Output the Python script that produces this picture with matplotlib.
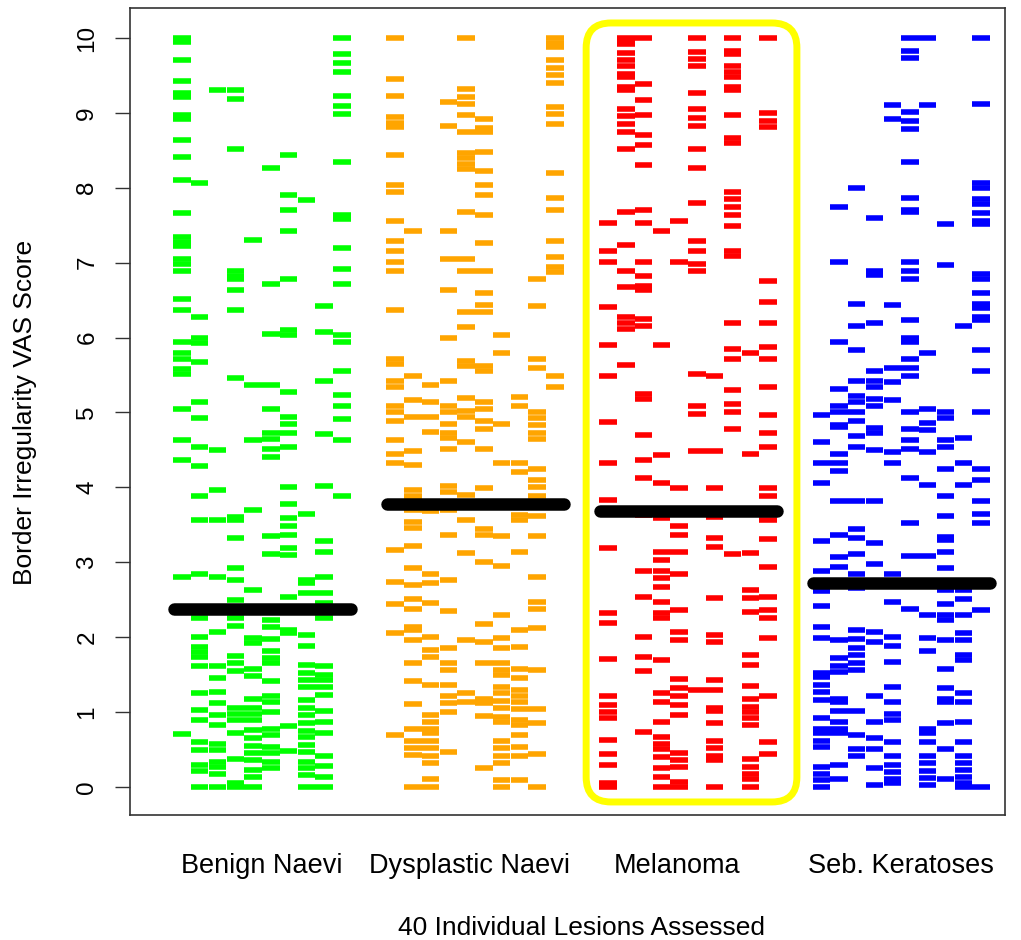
import matplotlib
matplotlib.use("Agg")
import matplotlib.pyplot as plt
from matplotlib.patches import FancyBboxPatch

plt.rcParams["font.family"] = ["Liberation Sans", "DejaVu Sans"]

GROUP_NAMES = ["Benign Naevi", "Dysplastic Naevi", "Melanoma", "Seb. Keratoses"]
GROUP_COLORS = ["#00FF00", "#FFA500", "#FF0000", "#0000FF"]
GROUP_MEDIANS = [2.38, 3.78, 3.68, 2.72]
LABEL_POS = [5.5, 17.2, 28.9, 41.5]

# VAS scores per lesion (one list per lesion, 10 lesions per group)
benign = [
    [10.0, 9.95, 9.70, 9.42, 9.27, 9.21, 8.97, 8.92, 8.64, 8.41, 8.10, 7.66, 7.34, 7.28, 7.22, 7.05, 6.98, 6.89,
     6.52, 6.37, 5.94, 5.79, 5.71, 5.58, 5.51, 5.05, 4.63, 4.37, 2.81, 0.71],
    [8.07, 6.27, 6.00, 5.93, 5.67, 5.14, 4.92, 4.54, 4.29, 3.89, 3.56, 2.85, 2.25, 2.00, 1.87, 1.80, 1.74, 1.62,
     1.25, 1.03, 0.89, 0.60, 0.50, 0.30, 0.22, 0.00],
    [9.30, 4.50, 3.96, 3.56, 2.81, 2.07, 1.62, 1.45, 1.27, 1.12, 0.96, 0.83, 0.58, 0.50, 0.34, 0.27, 0.18, 0.00],
    [9.30, 9.19, 8.52, 6.89, 6.82, 6.78, 6.64, 6.37, 5.46, 3.60, 3.56, 3.32, 2.92, 2.77, 2.50, 2.25, 2.15, 1.75,
     1.65, 1.55, 1.05, 0.98, 0.89, 0.72, 0.38, 0.05, 0.00],
    [7.30, 5.37, 4.63, 3.70, 2.63, 1.99, 1.92, 1.58, 1.48, 1.18, 1.06, 0.98, 0.90, 0.76, 0.66, 0.55, 0.45, 0.36,
     0.23, 0.14, 0.00],
    [8.26, 6.71, 6.05, 5.37, 5.05, 4.72, 4.65, 4.51, 4.40, 3.35, 3.11, 2.23, 2.14, 1.98, 1.82, 1.72, 1.65, 1.41,
     1.21, 1.14, 1.00, 0.78, 0.69, 0.54, 0.45, 0.34, 0.25],
    [8.44, 7.90, 7.70, 7.42, 6.78, 6.10, 6.03, 5.27, 4.94, 4.85, 4.73, 4.54, 4.00, 3.78, 3.59, 3.48, 3.36, 3.19,
     3.10, 2.54, 2.09, 2.05, 0.81, 0.48],
    [7.83, 3.65, 2.76, 2.72, 2.59, 2.03, 1.88, 1.63, 1.52, 1.43, 1.34, 1.16, 1.05, 0.96, 0.85, 0.75, 0.67, 0.56,
     0.47, 0.34, 0.25, 0.16, 0.00],
    [6.42, 6.08, 5.42, 4.71, 4.02, 3.28, 3.14, 2.81, 2.59, 2.45, 2.25, 1.61, 1.50, 1.43, 1.34, 1.23, 1.01, 0.87,
     0.72, 0.41, 0.28, 0.14, 0.00],
    [10.0, 9.79, 9.67, 9.55, 9.22, 9.09, 8.99, 8.34, 7.63, 7.58, 7.19, 6.92, 6.71, 6.04, 5.94, 5.56, 5.23, 5.08,
     4.91, 4.63, 3.89],
]

dysplastic = [
    [10.0, 9.45, 9.22, 8.94, 8.86, 8.81, 8.44, 8.04, 7.94, 7.56, 7.29, 7.15, 7.01, 6.89, 6.37, 5.71, 5.65, 5.42,
     5.34, 5.08, 5.01, 4.88, 4.63, 4.44, 4.33, 3.16, 2.74, 2.44, 2.06, 0.70],
    [7.42, 5.49, 5.16, 4.94, 4.48, 4.30, 3.96, 3.88, 3.83, 3.70, 3.54, 3.46, 3.22, 2.92, 2.69, 2.51, 2.38, 2.14,
     2.10, 1.96, 1.65, 1.42, 1.11, 0.78, 0.61, 0.52, 0.43, 0.00],
    [5.37, 5.14, 4.94, 4.74, 3.68, 2.85, 2.72, 2.45, 2.00, 1.83, 1.74, 1.36, 0.96, 0.87, 0.78, 0.72, 0.62, 0.52,
     0.42, 0.32, 0.10, 0.00],
    [9.15, 8.82, 7.42, 7.05, 6.64, 6.00, 5.42, 5.09, 5.00, 4.85, 4.72, 4.66, 4.51, 4.02, 3.94, 3.70, 3.36, 2.76,
     2.35, 1.85, 1.65, 1.56, 1.36, 1.22, 1.12, 1.00, 0.47],
    [10.0, 9.32, 9.21, 9.12, 8.97, 8.74, 8.47, 8.40, 8.32, 8.25, 7.67, 7.05, 6.89, 6.34, 6.14, 5.69, 5.62, 5.19,
     5.02, 4.94, 4.60, 3.90, 3.56, 3.12, 1.96, 1.25, 1.14],
    [8.92, 8.80, 8.74, 8.48, 8.23, 8.04, 7.90, 7.64, 7.26, 6.89, 6.60, 6.43, 6.34, 5.62, 5.56, 5.14, 5.05, 4.88,
     4.78, 4.51, 3.99, 3.44, 3.36, 3.00, 2.18, 1.93, 1.65, 1.18, 1.12, 0.95, 0.26],
    [6.04, 5.79, 4.85, 4.33, 3.35, 2.95, 2.30, 1.99, 1.85, 1.65, 1.56, 1.50, 1.34, 1.25, 1.15, 1.05, 0.94, 0.87,
     0.61, 0.52, 0.42, 0.32, 0.09, 0.00],
    [5.20, 5.09, 4.33, 4.20, 3.63, 3.57, 3.14, 2.10, 1.87, 1.58, 1.45, 1.29, 1.21, 1.14, 1.04, 0.89, 0.83, 0.70,
     0.54, 0.42, 0.09],
    [6.78, 6.42, 5.71, 5.59, 5.00, 4.92, 4.83, 4.72, 4.65, 4.25, 4.10, 4.01, 3.88, 3.62, 3.35, 2.81, 2.47, 2.38,
     2.12, 1.56, 1.04, 0.85, 0.44, 0.00],
    [10.0, 9.93, 9.88, 9.70, 9.60, 9.50, 9.40, 9.08, 8.98, 8.85, 8.20, 7.86, 7.70, 7.29, 7.08, 6.94, 6.87, 5.49,
     5.34],
]

melanoma = [
    [7.53, 7.15, 7.01, 6.41, 5.90, 5.49, 4.87, 4.33, 3.83, 3.19, 2.32, 2.19, 1.71, 1.21, 1.10, 1.00, 0.92, 0.63,
     0.44, 0.29, 0.05, 0.00],
    [10.0, 9.95, 9.92, 9.80, 9.70, 9.63, 9.52, 9.48, 9.34, 9.30, 9.05, 8.96, 8.85, 8.74, 8.52, 7.67, 7.23, 6.89,
     6.68, 6.27, 6.20, 6.12, 5.63],
    [10.0, 9.38, 9.17, 8.97, 8.71, 8.57, 8.30, 7.70, 7.53, 7.01, 6.82, 6.69, 6.64, 6.25, 6.16, 5.25, 5.18, 4.70,
     4.37, 4.13, 3.63, 2.88, 2.54, 2.00, 1.74, 1.55, 0.74],
    [7.42, 5.90, 4.43, 4.06, 3.59, 3.14, 3.03, 2.88, 2.79, 2.67, 2.47, 2.32, 2.25, 1.70, 1.25, 1.14, 0.87, 0.67,
     0.58, 0.51, 0.40, 0.26, 0.14, 0.00],
    [7.56, 7.01, 3.99, 3.48, 3.36, 3.14, 2.84, 2.36, 2.07, 1.96, 1.44, 1.32, 1.21, 1.09, 0.96, 0.45, 0.36, 0.27,
     0.07, 0.00],
    [10.0, 9.81, 9.72, 9.63, 9.27, 9.05, 8.93, 8.82, 8.52, 8.27, 7.79, 7.29, 7.15, 6.98, 6.89, 5.52, 5.09, 4.98,
     4.48, 1.29],
    [5.49, 4.48, 3.99, 3.61, 3.32, 3.21, 2.52, 2.03, 1.94, 1.43, 1.29, 1.05, 1.01, 0.85, 0.61, 0.52, 0.42, 0.36,
     0.00],
    [10.0, 9.83, 9.79, 9.63, 9.54, 9.48, 9.34, 9.30, 8.97, 8.67, 8.60, 7.94, 7.85, 7.74, 7.63, 7.49, 7.16, 7.09,
     6.20, 5.85, 5.71, 5.30, 5.11, 5.00, 4.78, 3.11],
    [5.79, 4.45, 3.13, 2.63, 2.52, 2.33, 1.76, 1.63, 1.35, 1.18, 1.07, 1.00, 0.92, 0.83, 0.38, 0.27, 0.18, 0.10,
     0.00],
    [10.0, 9.00, 8.89, 8.81, 6.75, 6.48, 6.20, 5.87, 5.71, 5.34, 4.96, 4.72, 4.54, 3.99, 3.89, 3.56, 3.31, 2.94,
     2.54, 2.36, 2.25, 1.99, 1.21, 0.60, 0.44],
]

seb_keratoses = [
    [4.97, 4.60, 4.33, 4.06, 3.29, 2.89, 2.61, 2.41, 2.14, 1.99, 1.52, 1.47, 1.36, 1.27, 1.16, 0.92, 0.78, 0.72,
     0.61, 0.54, 0.27, 0.18, 0.09, 0.00],
    [7.74, 7.01, 5.94, 5.31, 5.09, 5.00, 4.83, 4.80, 4.45, 4.33, 4.22, 3.82, 3.36, 3.07, 2.94, 1.96, 1.72, 1.61,
     1.54, 1.18, 1.14, 1.01, 0.87, 0.78, 0.72, 0.29, 0.10],
    [8.00, 6.45, 6.15, 5.83, 5.42, 5.22, 5.14, 5.00, 4.88, 4.68, 4.54, 3.82, 3.44, 3.32, 3.11, 2.85, 2.65, 2.10,
     1.97, 1.85, 1.76, 1.65, 1.56, 1.01, 0.70, 0.51, 0.41],
    [7.60, 6.89, 6.83, 6.20, 5.56, 5.42, 5.34, 5.18, 5.08, 4.79, 4.72, 4.50, 3.82, 3.26, 2.98, 2.07, 1.94, 1.21,
     0.87, 0.66, 0.51, 0.26, 0.03],
    [9.11, 8.92, 6.44, 5.60, 5.41, 5.16, 4.47, 4.33, 2.84, 2.47, 2.00, 1.88, 1.67, 1.34, 1.14, 0.98, 0.89, 0.60,
     0.41, 0.29, 0.20, 0.10, 0.05],
    [10.0, 9.82, 9.73, 9.01, 8.89, 8.79, 8.34, 7.86, 7.70, 7.67, 7.01, 6.89, 6.78, 6.23, 6.00, 5.94, 5.71, 5.60,
     5.49, 5.01, 4.78, 4.63, 4.51, 4.13, 3.52, 3.08, 2.37],
    [10.0, 9.11, 5.79, 5.05, 4.86, 4.77, 4.47, 4.03, 3.08, 2.30, 1.99, 1.82, 0.78, 0.72, 0.60, 0.41, 0.32, 0.22,
     0.12, 0.03],
    [7.52, 6.97, 5.00, 4.92, 4.63, 4.54, 4.25, 3.89, 3.62, 3.34, 3.30, 3.14, 2.92, 2.63, 2.44, 2.30, 2.23, 1.96,
     1.58, 1.32, 1.18, 1.14, 0.85, 0.51, 0.10],
    [6.15, 4.66, 4.33, 4.03, 2.63, 2.51, 2.30, 2.05, 1.96, 1.76, 1.70, 1.25, 1.14, 0.87, 0.60, 0.41, 0.32, 0.23,
     0.14, 0.05, 0.00],
    [10.0, 9.12, 8.07, 8.00, 7.85, 7.78, 7.66, 7.56, 7.52, 6.85, 6.78, 6.60, 6.45, 6.40, 6.27, 6.23, 5.83, 5.56,
     5.00, 4.25, 4.10, 3.82, 3.65, 3.52, 2.36, 0.00],
]

groups = [benign, dysplastic, melanoma, seb_keratoses]


def main():
    fig = plt.figure(figsize=(10.21, 9.40), dpi=100)
    ax = fig.add_axes([130 / 1021, 125 / 940, 875 / 1021, 807 / 940])

    for g, lesions in enumerate(groups):
        start = 1 + 12 * g
        for i, scores in enumerate(lesions):
            x = start + i
            ax.hlines(scores, x - 0.49, x + 0.49, colors=GROUP_COLORS[g], lw=4.0)
        ax.plot([start - 0.45, start + 9.5], [GROUP_MEDIANS[g]] * 2, color="black",
                lw=9, solid_capstyle="round", zorder=5)
        ax.text(LABEL_POS[g], -0.063, GROUP_NAMES[g], transform=ax.get_xaxis_transform(),
                ha="center", va="center", fontsize=19.5)

    # highlight box round the melanoma group
    box = FancyBboxPatch((23.76, -0.2), 35.63 - 23.76, 10.4,
                         boxstyle="round,pad=0,rounding_size=1.4", mutation_aspect=0.237,
                         fill=False, edgecolor="#FFFF00", lw=5, zorder=4)
    ax.add_patch(box)

    ax.set_xlim(-1.93, 47.35)
    ax.set_ylim(-0.374, 10.40)
    ax.set_xticks([])
    ax.set_yticks(range(11))
    ax.set_yticklabels([str(v) for v in range(11)], rotation=90, va="center", fontsize=17.5)
    ax.tick_params(axis="y", length=10.8, width=1, pad=12, color="#333333")
    for s in ax.spines.values():
        s.set_color("#333333")
        s.set_linewidth(1.2)

    fig.text(25 / 1021, 1 - 412 / 940, "Border Irregularity VAS Score", rotation=90,
             ha="center", va="center", fontsize=19)
    fig.text(582 / 1021, 1 - 928 / 940, "40 Individual Lesions Assessed",
             ha="center", va="center", fontsize=19)

    fig.savefig("out.png", dpi=100)
    plt.close(fig)


if __name__ == "__main__":
    main()
